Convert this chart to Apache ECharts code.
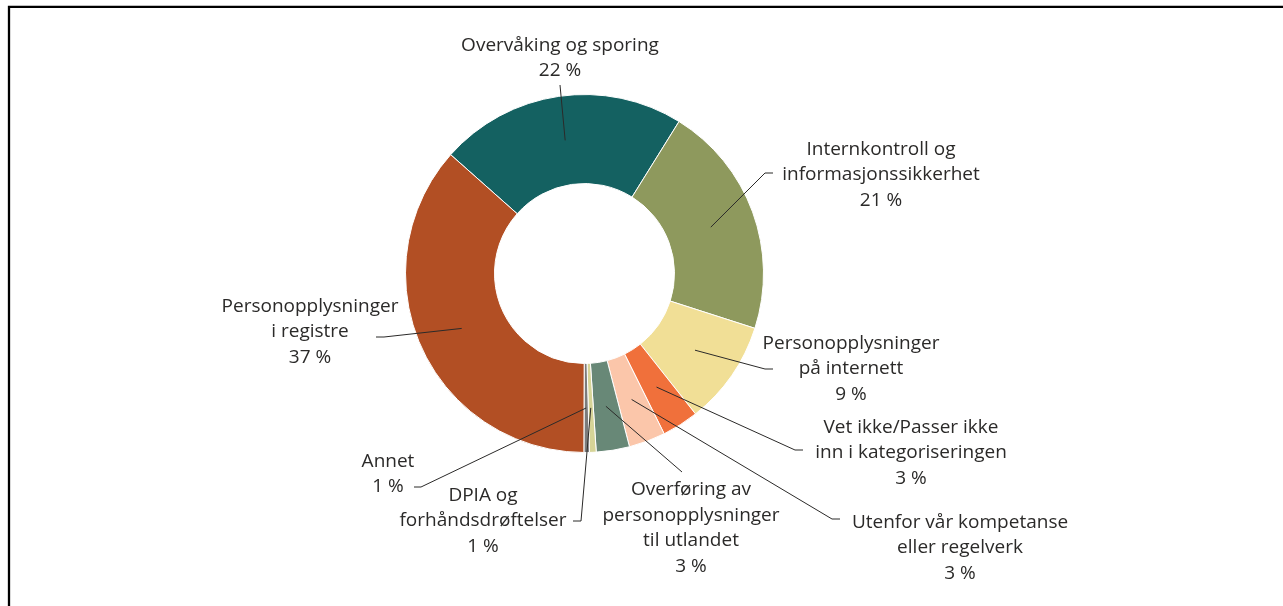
<!DOCTYPE html>
<html>
<head>
<meta charset="utf-8">
<script src="https://cdn.jsdelivr.net/npm/echarts@6/dist/echarts.min.js"></script>
<style>
html,body{margin:0;padding:0;background:#fff;}
#c{width:1283px;height:606px;}
</style>
</head>
<body>
<div id="c"></div>
<script>
// Data (clockwise order, starting with the teal slice)
const categories = [
  'Overvåking og sporing',
  'Internkontroll og\ninformasjonssikkerhet',
  'Personopplysninger\npå internett',
  'Vet ikke/Passer ikke\ninn i kategoriseringen',
  'Utenfor vår kompetanse\neller regelverk',
  'Overføring av\npersonopplysninger\ntil utlandet',
  'DPIA og\nforhåndsdrøftelser',
  'Annet',
  'Personopplysninger\ni registre'
];
const values = [22.3, 21.1, 9.4, 3.3, 3.3, 3.0, 0.6, 0.5, 36.5];
const shownPct = [22, 21, 9, 3, 3, 3, 1, 1, 37];
const colors = ['#146161', '#8e995d', '#f1df96', '#f0703b', '#fbc6aa', '#688877', '#d6d497', '#7b7b7b', '#b24f24'];

// Layout (positions only)
const CX = 584.5, CY = 273.5, R0 = 90, R1 = 179;
const labelPos = [
  [560, 58], [881, 175], [851, 369], [911, 453], [960, 548],
  [691, 528], [483, 521], [388, 474], [310, 332]
];
const lineEnds = [
  [[560, 85], [560, 85]],
  [[765, 173], [773, 173]],
  [[765, 369], [773, 369]],
  [[795, 450], [803, 450]],
  [[832, 519], [840, 519]],
  [[682, 472], [682, 472]],
  [[581, 521], [573, 521]],
  [[421, 487], [414, 487]],
  [[384, 337], [376, 337]]
];

const TEXT = '#2b2a29';
const common = {
  type: 'pie',
  center: [CX, CY],
  radius: [R0, R1],
  startAngle: 138.4,
  clockwise: true,
  avoidLabelOverlap: false,
  silent: true
};

const chart = echarts.init(document.getElementById('c'), null, {renderer: 'canvas'});
chart.setOption({
  backgroundColor: '#fff',
  animation: false,
  graphic: [{
    type: 'rect',
    shape: {x: 9, y: 6.8, width: 1400, height: 700},
    style: {fill: 'none', stroke: '#000', lineWidth: 2.3},
    silent: true
  }],
  series: [
    Object.assign({}, common, {
      z: 2,
      itemStyle: {borderColor: '#fff', borderWidth: 1},
      label: {show: false},
      labelLine: {show: false},
      data: categories.map((c, i) => ({name: c, value: values[i], itemStyle: {color: colors[i]}}))
    }),
    Object.assign({}, common, {
      z: 5,
      itemStyle: {color: 'rgba(0,0,0,0)', borderWidth: 0},
      label: {
        show: true,
        position: 'outside',
        fontFamily: 'Open Sans',
        fontSize: 19,
        lineHeight: 25.5,
        color: TEXT,
        align: 'center',
        formatter: p => p.name + '\n' + shownPct[p.dataIndex] + ' %'
      },
      labelLine: {show: true, lineStyle: {color: TEXT, width: 1}},
      labelLayout: function (params) {
        const i = params.dataIndex;
        const pts = params.labelLinePoints;
        let p0 = [CX, CY];
        if (pts && pts[0]) {
          const k = ((R0 + R1) / 2) / R1;
          p0 = [CX + (pts[0][0] - CX) * k, CY + (pts[0][1] - CY) * k];
        }
        return {
          x: labelPos[i][0],
          y: labelPos[i][1],
          align: 'center',
          verticalAlign: 'middle',
          labelLinePoints: [p0, lineEnds[i][0], lineEnds[i][1]]
        };
      },
      data: categories.map((c, i) => ({name: c, value: values[i]}))
    })
  ]
});
</script>
</body>
</html>
